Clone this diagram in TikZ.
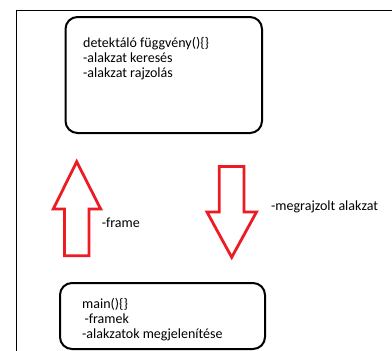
\documentclass[tikz,border=0pt]{standalone}
\usepackage{fontspec}
\setmainfont{Carlito}
\definecolor{arrowred}{RGB}{237,28,36}
\begin{document}
\begin{tikzpicture}[x=1pt,y=-1pt,
  box/.style={draw=black,line width=2pt,rounded corners=12pt},
  redarrow/.style={draw=arrowred,line width=2.8pt,line join=miter},
  lbl/.style={font=\fontsize{14}{15}\selectfont,inner sep=0pt,anchor=base west}]
\useasboundingbox (0,0) rectangle (392,351);
\fill[white] (0,0) rectangle (392,351);
% outer frame
\draw[line width=1.5pt] (393,10.5) -- (16.5,10.5) -- (16.5,352);
% boxes
\draw[box] (65.5,17) rectangle (262,133);
\draw[box] (60,283) rectangle (265,349);
% top box text
\node[lbl] (t1) at (83,47.5) {detektáló függvény()\{\}};
\node[lbl] (t2) at (83,62.5) {-alakzat keresés};
\node[lbl] (t3) at (83,77.5) {-alakzat rajzolás};
% bottom box text
\node[lbl] (b1) at (82,308.5) {main()\{\}};
\node[lbl] (b2) at (84.5,323.5) {-framek};
\node[lbl] (b3) at (82,338.5) {-alakzatok megjelenítése};
% arrows
\draw[redarrow] (76.7,161.7) -- (100.7,209) -- (89,209) -- (89,255.7) -- (64.5,255.7) -- (64.5,209) -- (53.3,209) -- cycle;
\draw[redarrow] (219.2,166.5) -- (244,166.5) -- (244,212) -- (256.5,212) -- (231.7,257.3) -- (207,212) -- (219.2,212) -- cycle;
% arrow labels
\node[lbl] (fr) at (101.7,227.5) {-frame};
\node[lbl] (mg) at (271,210.5) {-megrajzolt alakzat};
\end{tikzpicture}
\end{document}
